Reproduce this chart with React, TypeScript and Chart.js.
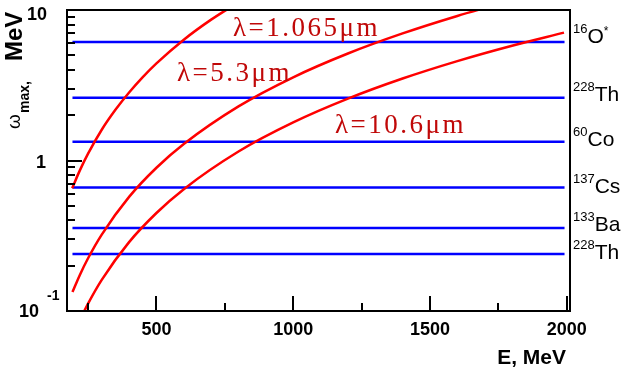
import { useEffect, useRef } from 'react';
import { Chart, registerables } from 'chart.js';
Chart.register(...registerables);

// Compton-edge curves
const energyA = [192, 220, 250, 300, 350, 400, 450, 500, 600, 700, 790];
const omegaA = [0.655, 0.86, 1.11, 1.6, 2.17, 2.83, 3.58, 4.42, 6.35, 8.63, 10.97];
const energyB = [193, 220, 250, 300, 400, 500, 600, 800, 1000, 1200, 1400, 1600, 1720];
const omegaB = [0.1335, 0.1735, 0.224, 0.322, 0.573, 0.895, 1.287, 2.288, 3.572, 5.14, 6.99, 9.13, 10.54];
const energyC = [230, 250, 300, 400, 500, 600, 800, 1000, 1200, 1400, 1600, 1800, 1990];
const omegaC = [0.0948, 0.112, 0.161, 0.287, 0.448, 0.645, 1.147, 1.79, 2.575, 3.505, 4.576, 5.789, 7.07];
const lambdaLabels = ['λ=1.065μm', 'λ=5.3μm', 'λ=10.6μm'];

// Calibration source lines
const sourceEnergies = [6.13, 2.61, 1.33, 0.662, 0.356, 0.239];
const sourceMass = ['16', '228', '60', '137', '133', '228'];
const sourceElem = ['O', 'Th', 'Co', 'Cs', 'Ba', 'Th'];
const sourceSuffix = ['*', '', '', '', '', ''];
const lineRange = [193, 1992];

const xMajorTicks = [500, 1000, 1500, 2000];
const xMinorTicks = [250, 750, 1250, 1750];
const yMajorTicks = [1, 10];
const yMinorMultipliers = [2, 3, 4, 5, 6, 7, 8, 9];
const yDecades = [0.1, 1];

// label placement (style, not data)
const lambdaPos = [
  { x: 233, y: 36 },
  { x: 177, y: 81 },
  { x: 335, y: 133 },
];
const sourceDy = [1, 3, 4, 6, 3, 5];

const RED = '#ff0000';
const BLUE = '#0000ff';
const TEXT_RED = '#c00808';

const overlay = {
  id: 'overlay',
  afterDraw(chart: any) {
    const { ctx, chartArea: ca } = chart;
    const xs = chart.scales.x;
    const ys = chart.scales.y;
    ctx.save();
    ctx.strokeStyle = '#000';
    ctx.lineWidth = 2;
    ctx.strokeRect(ca.left, ca.top, ca.right - ca.left, ca.bottom - ca.top);
    ctx.beginPath();
    yMajorTicks.forEach((v) => {
      const y = Math.round(ys.getPixelForValue(v));
      ctx.moveTo(ca.left, y);
      ctx.lineTo(ca.left + 15, y);
    });
    yDecades.forEach((d) =>
      yMinorMultipliers.forEach((m) => {
        const y = Math.round(ys.getPixelForValue(d * m));
        ctx.moveTo(ca.left, y);
        ctx.lineTo(ca.left + 8, y);
      })
    );
    xMajorTicks.forEach((v) => {
      const x = Math.round(xs.getPixelForValue(v));
      ctx.moveTo(x, ca.bottom);
      ctx.lineTo(x, ca.bottom - 15);
    });
    xMinorTicks.forEach((v) => {
      const x = Math.round(xs.getPixelForValue(v));
      ctx.moveTo(x, ca.bottom);
      ctx.lineTo(x, ca.bottom - 8);
    });
    ctx.stroke();

    // tick labels
    ctx.fillStyle = '#000';
    ctx.font = 'bold 18px "Liberation Sans", Arial, sans-serif';
    ctx.textAlign = 'center';
    ctx.textBaseline = 'alphabetic';
    xMajorTicks.forEach((v) => {
      ctx.fillText(String(v), xs.getPixelForValue(v), ca.bottom + 24);
    });
    ctx.textAlign = 'right';
    ctx.fillText('10', 47, ys.getPixelForValue(10) + 10);
    ctx.fillText('1', 46, ys.getPixelForValue(1) + 7);
    ctx.fillText('10', 39, ys.getPixelForValue(0.1) + 6);
    ctx.font = 'bold 14px "Liberation Sans", Arial, sans-serif';
    ctx.textAlign = 'left';
    ctx.fillText('-1', 47, ys.getPixelForValue(0.1) - 11);

    // x title
    ctx.font = 'bold 21px "Liberation Sans", Arial, sans-serif';
    ctx.textAlign = 'right';
    ctx.fillText('E, MeV', 566, 364);

    // y title (rotated)
    ctx.save();
    ctx.rotate(-Math.PI / 2);
    ctx.textAlign = 'left';
    ctx.font = '19px "Liberation Sans", Arial, sans-serif';
    ctx.fillText('ω', -129, 20);
    ctx.font = 'bold 14px "Liberation Sans", Arial, sans-serif';
    ctx.fillText('max,', -113, 29);
    ctx.font = 'bold 24px "Liberation Sans", Arial, sans-serif';
    ctx.fillText('MeV', -61, 22);
    ctx.restore();

    // source labels at right
    sourceEnergies.forEach((v, i) => {
      const y = ys.getPixelForValue(v) + sourceDy[i];
      const x0 = ca.right + 3;
      ctx.font = '13px "Liberation Sans", Arial, sans-serif';
      ctx.textAlign = 'left';
      ctx.fillText(sourceMass[i], x0, y - 10);
      const w = ctx.measureText(sourceMass[i]).width;
      ctx.font = '21px "Liberation Sans", Arial, sans-serif';
      ctx.fillText(sourceElem[i], x0 + w, y);
      if (sourceSuffix[i]) {
        const w2 = ctx.measureText(sourceElem[i]).width;
        ctx.font = '12px "Liberation Sans", Arial, sans-serif';
        ctx.fillText(sourceSuffix[i], x0 + w + w2, y - 8);
      }
    });

    // lambda labels
    ctx.fillStyle = TEXT_RED;
    ctx.font = '27px "Liberation Serif", "Times New Roman", serif';
    (ctx as any).letterSpacing = '2.5px';
    ctx.textAlign = 'left';
    lambdaLabels.forEach((t, i) => {
      ctx.fillText(t, lambdaPos[i].x, lambdaPos[i].y);
    });
    (ctx as any).letterSpacing = '0px';
    ctx.restore();
  },
};

export default function App() {
  const ref = useRef<HTMLCanvasElement | null>(null);
  useEffect(() => {
    if (!ref.current) return;
    const toPts = (xs: number[], ys: number[]) => xs.map((x, i) => ({ x, y: ys[i] }));
    const curve = (xs: number[], ys: number[]) => ({
      data: toPts(xs, ys),
      borderColor: RED,
      borderWidth: 2.5,
      pointRadius: 0,
      fill: false,
      cubicInterpolationMode: 'monotone' as const,
      order: 0,
    });
    const lines = sourceEnergies.map((v) => ({
      data: [
        { x: lineRange[0], y: v },
        { x: lineRange[1], y: v },
      ],
      borderColor: BLUE,
      borderWidth: 2.5,
      pointRadius: 0,
      fill: false,
      order: 1,
    }));
    const chart = new Chart(ref.current, {
      type: 'line',
      data: {
        datasets: [...lines, curve(energyA, omegaA), curve(energyB, omegaB), curve(energyC, omegaC)] as any,
      },
      plugins: [overlay],
      options: {
        animation: false,
        responsive: false,
        events: [],
        layout: { padding: { left: 67, top: 10, right: 60, bottom: 65 } },
        plugins: { legend: { display: false }, tooltip: { enabled: false } },
        scales: {
          x: { type: 'linear', min: 173, max: 2012, display: false },
          y: { type: 'logarithmic', min: 0.1, max: 10, display: false },
        },
      },
    });
    return () => chart.destroy();
  }, []);
  return (
    <div style={{ position: 'fixed', left: 0, top: 0, width: 630, height: 376, background: '#fff' }}>
      <canvas ref={ref} width={630} height={376} />
    </div>
  );
}
